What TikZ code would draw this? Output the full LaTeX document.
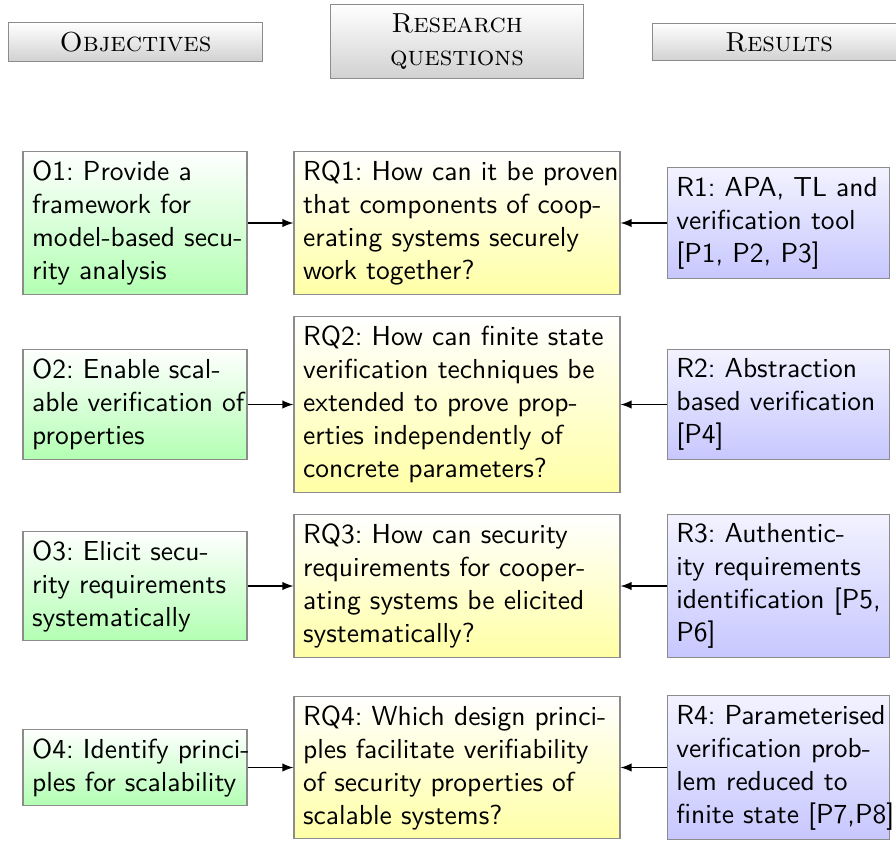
\documentclass[tikz,border=0pt]{standalone}
\usetikzlibrary{arrows.meta}
% one unbreakable line of a box text
\newcommand{\bl}[1]{\mbox{#1}}
\begin{document}
\frenchspacing
\begin{tikzpicture}[x=0.36364pt,y=-0.36364pt,
  box/.style={draw=black!45, line width=0.4pt, align=left, font=\sffamily, anchor=center},
  objbox/.style={box, text width=74.8pt, top color=white, bottom color=green!30},
  rqbox/.style={box, text width=111.9pt, top color=white, bottom color=yellow!35},
  resbox/.style={box, text width=74.3pt, top color=blue!5, bottom color=blue!22},
  headbox/.style={draw=black!45, line width=0.4pt, text width=85.5pt, align=center,
    top color=white, bottom color=black!18},
  link/.style={-latex, line width=0.4pt}]
\clip (0,0) rectangle (896,842);

% column headers
\node[headbox] (hobj) at (135.5,42) {\textsc{Objectives}\hspace*{8pt}};
\node[headbox] (hrq)  at (457,41.5) {\textsc{Research}\hspace*{8pt}\\\textsc{questions}\hspace*{8pt}};
\node[headbox] (hres) at (779,42) {\textsc{Results}\hspace*{8pt}};

% row 1
\node[objbox] (o1) at (135,223) {\bl{O1: Provide a}\\\bl{framework for}\\\bl{model-based secu-}\\\bl{rity analysis}};
\node[rqbox] (rq1) at (457,223) {\bl{RQ1: How can it be proven}\\\bl{that components of coop-}\\\bl{erating systems securely}\\\bl{work together?}};
\node[resbox] (r1) at (778.5,223) {\bl{R1: APA, TL and}\\\bl{verification tool}\\\bl{[P1, P2, P3]}};

% row 2
\node[objbox] (o2) at (135,404.5) {\bl{O2: Enable scal-}\\\bl{able verification of}\\\bl{properties}};
\node[rqbox] (rq2) at (457,404.5) {\bl{RQ2: How can finite state}\\\bl{verification techniques be}\\\bl{extended to prove prop-}\\\bl{erties independently of}\\\bl{concrete parameters?}};
\node[resbox] (r2) at (778.5,404.5) {\bl{R2: Abstraction}\\\bl{based verification}\\\bl{[P4]}};

% row 3
\node[objbox] (o3) at (135,586) {\bl{O3: Elicit secu-}\\\bl{rity requirements}\\\bl{systematically}};
\node[rqbox] (rq3) at (457,586) {\bl{RQ3: How can security}\\\bl{requirements for cooper-}\\\bl{ating systems be elicited}\\\bl{systematically?}};
\node[resbox] (r3) at (778.5,586) {\bl{R3: Authentic-}\\\bl{ity requirements}\\\bl{identification [P5,}\\\bl{P6]}};

% row 4
\node[objbox] (o4) at (135,767.5) {\bl{O4: Identify princi-}\\\bl{ples for scalability}};
\node[rqbox] (rq4) at (457,767.5) {\bl{RQ4: Which design princi-}\\\bl{ples facilitate verifiability}\\\bl{of security properties of}\\\bl{scalable systems?}};
\node[resbox] (r4) at (778.5,767.5) {\bl{R4: Parameterised}\\\bl{verification prob-}\\\bl{lem reduced to}\\\bl{finite state [P7,P8]}};

% connectors
\foreach \i in {1,2,3,4}{
  \draw[link] (o\i.east) -- (rq\i.west);
  \draw[link] (r\i.west) -- (rq\i.east);
}
\end{tikzpicture}
\end{document}
